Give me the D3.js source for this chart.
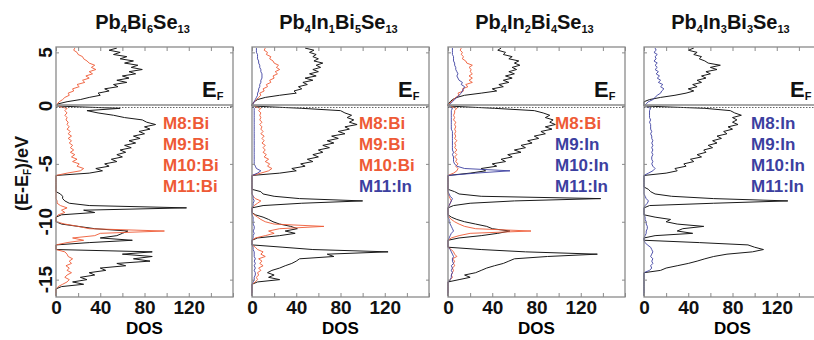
<!DOCTYPE html>
<html>
<head>
<meta charset="utf-8">
<script src="https://cdn.jsdelivr.net/npm/d3@7"></script>
<style>
  body { margin: 0; background: #fff; }
  svg { display: block; }
  text { font-family: "Liberation Sans", Arial, sans-serif; font-weight: bold; }
</style>
</head>
<body>
<svg id="chart" width="814" height="340"></svg>
<script>
// energy grid (eV, relative to E_F) shared by every DOS curve
const energy = [
  -16.4,-16.2,-16.0,-15.8,-15.6,-15.4,-15.2,-15.0,-14.8,-14.6,
  -14.4,-14.2,-14.0,-13.8,-13.6,-13.4,-13.2,-13.0,-12.8,-12.6,
  -12.4,-12.2,-12.0,-11.8,-11.6,-11.4,-11.2,-11.0,-10.8,-10.6,
  -10.4,-10.2,-10.0,-9.8,-9.6,-9.4,-9.2,-9.0,-8.8,-8.6,
  -8.4,-8.2,-8.0,-7.8,-7.6,-7.4,-7.2,-7.0,-6.8,-6.6,
  -6.4,-6.2,-6.0,-5.8,-5.6,-5.4,-5.2,-5.0,-4.8,-4.6,
  -4.4,-4.2,-4.0,-3.8,-3.6,-3.4,-3.2,-3.0,-2.8,-2.6,
  -2.4,-2.2,-2.0,-1.8,-1.6,-1.4,-1.2,-1.0,-0.8,-0.6,
  -0.4,-0.2,0.0,0.2,0.4,0.6,0.8,1.0,1.2,1.4,
  1.6,1.8,2.0,2.2,2.4,2.6,2.8,3.0,3.2,3.4,
  3.6,3.8,4.0,4.2,4.4,4.6,4.8,5.0,5.2,5.4
];

// Pb4Bi6Se13
const p1Total = [
  0,0,0,0,5,25,15,28,22,35,
  30,45,40,63,55,85,70,87,60,87,
  0,0,0,30,69,40,55,60,65,35,
  20,5,0,0,0,5,35,25,118,30,
  12,8,6,6,4,0,0,0,0,0,
  0,0,0,30,42,36,48,44,55,50,
  60,55,63,58,68,62,72,66,76,70,
  80,75,85,80,90,82,78,62,52,38,
  28,58,0,2,10,22,30,40,38,48,
  44,56,52,64,55,66,60,72,66,78,
  68,74,62,70,58,64,52,58,48,55
];
const p1Bi = [
  0,0,0,0,2,6,10,12,8,10,
  14,10,12,9,14,12,15,11,10,8,
  0,0,0,10,25,15,35,40,98,30,
  20,8,0,0,0,2,8,5,10,4,
  1,1,0,0,0,0,0,0,0,0,
  0,0,0,10,22,25,19,21,15,19,
  14,17,13,16,13,15,12,14,11,14,
  11,13,10,12,10,11,9,10,8,10,
  8,10,0,1,3,6,8,12,11,16,
  15,21,19,26,24,30,27,33,30,36,
  32,35,30,28,25,24,20,19,16,17
];

// Pb4In1Bi5Se13
const p2Total = [
  0,0,0,0,0,0,5,25,15,20,
  14,18,25,30,36,40,43,74,68,123,
  55,28,0,0,0,5,25,39,30,41,
  35,25,19,15,10,3,0,0,0,10,
  45,100,43,20,10,8,0,0,0,0,
  0,0,0,25,40,36,48,44,55,50,
  60,55,64,60,70,64,74,68,78,72,
  84,78,88,84,95,88,92,86,90,84,
  80,45,0,0,2,5,12,25,40,38,
  45,42,50,46,55,48,58,52,60,55,
  62,58,64,56,60,55,58,52,56,48
];
const p2Bi = [
  0,0,0,0,0,0,3,5,4,6,
  5,8,6,10,7,9,6,12,8,10,
  5,3,0,0,0,3,12,20,15,25,
  65,20,12,8,5,2,0,0,0,2,
  5,8,3,1,0,0,0,0,0,0,
  0,0,0,8,15,18,14,16,12,15,
  11,13,10,12,10,12,9,11,9,11,
  8,10,8,9,7,9,7,8,7,8,
  6,8,0,1,2,4,6,8,7,11,
  10,14,13,17,16,20,19,23,21,25,
  22,24,20,19,16,17,13,14,11,12
];
const p2In = [
  0,0,0,0,0,0,1,2,2,3,
  3,2,3,2,3,2,3,2,2,2,
  1,1,0,0,0,1,1,2,1,2,
  2,1,1,1,1,0,0,0,0,1,
  1,2,1,1,0,0,0,0,0,0,
  0,0,0,5,8,4,3,2,2,2,
  2,2,2,2,2,2,2,2,2,2,
  2,2,2,2,2,2,2,2,2,2,
  2,2,0,1,2,3,4,5,5,6,
  6,7,7,8,8,9,9,9,8,8,
  7,7,6,6,5,5,5,4,4,4
];

// Pb4In2Bi4Se13
const p3Total = [
  0,0,0,0,0,0,0,10,20,15,
  25,30,35,42,50,55,60,90,135,70,
  30,0,0,0,0,10,30,45,56,40,
  35,25,15,8,3,0,0,0,0,5,
  20,60,138,30,10,6,0,0,0,0,
  0,0,0,20,34,30,44,40,52,48,
  58,54,66,60,70,66,76,72,82,78,
  88,84,94,88,97,92,95,88,92,86,
  78,42,0,0,2,4,8,15,30,44,
  40,50,46,55,50,58,52,60,55,62,
  58,65,60,64,55,58,50,52,45,48
];
const p3Bi = [
  0,0,0,0,0,0,0,2,4,3,
  4,5,4,6,5,6,4,8,6,5,
  3,0,0,0,0,3,10,20,75,25,
  15,10,6,3,1,0,0,0,0,1,
  2,3,2,1,0,0,0,0,0,0,
  0,0,0,5,8,9,7,9,7,8,
  6,8,6,8,6,7,6,8,6,7,
  6,7,6,7,6,7,5,6,5,6,
  6,8,0,1,3,5,7,10,9,14,
  13,18,16,22,19,22,19,22,20,21,
  19,22,17,16,13,14,12,13,11,12
];
const p3In = [
  0,0,0,0,0,0,0,2,3,3,
  4,3,4,3,5,4,4,5,4,3,
  2,0,0,0,0,1,2,3,5,4,
  3,2,1,1,0,0,0,0,0,1,
  2,3,4,2,1,0,0,0,0,0,
  0,0,0,25,56,15,8,6,5,5,
  5,4,5,4,4,4,4,4,4,4,
  4,4,3,3,3,3,3,3,3,3,
  3,4,0,2,4,6,8,10,12,13,
  14,15,12,13,10,9,8,9,8,7,
  7,6,6,5,5,5,4,4,4,4
];

// Pb4In3Bi3Se13
const p4Total = [
  0,0,0,0,0,0,0,0,0,0,
  0,15,20,30,40,48,55,63,75,98,
  108,100,94,50,0,0,10,44,30,35,
  54,30,20,24,10,0,0,0,0,5,
  63,130,63,25,10,6,4,0,0,0,
  0,0,0,20,30,28,38,36,45,42,
  52,48,56,54,62,58,66,62,70,66,
  75,72,80,76,85,80,84,80,88,82,
  78,55,0,0,0,5,15,28,38,45,
  40,48,44,52,48,56,52,60,56,66,
  60,69,58,55,50,52,45,48,40,45
];
const p4In = [
  0,0,0,0,0,0,0,0,0,0,
  0,5,7,6,8,7,8,6,7,8,
  7,6,3,1,0,0,1,2,2,3,
  3,2,2,1,1,0,0,0,0,1,
  3,4,2,1,0,0,0,0,0,0,
  0,0,0,4,8,10,8,7,8,7,
  7,8,7,8,7,8,7,8,7,7,
  6,7,6,6,6,5,6,5,5,5,
  5,6,0,2,4,8,10,12,15,16,
  18,15,17,13,15,12,14,11,13,10,
  12,10,12,9,11,10,12,9,11,10
];

// title pieces: [text, isSubscript]
const titles = [
  [["Pb",0],["4",1],["Bi",0],["6",1],["Se",0],["13",1]],
  [["Pb",0],["4",1],["In",0],["1",1],["Bi",0],["5",1],["Se",0],["13",1]],
  [["Pb",0],["4",1],["In",0],["2",1],["Bi",0],["4",1],["Se",0],["13",1]],
  [["Pb",0],["4",1],["In",0],["3",1],["Bi",0],["3",1],["Se",0],["13",1]]
];
const siteLabels = [
  ["M8:Bi","M9:Bi","M10:Bi","M11:Bi"],
  ["M8:Bi","M9:Bi","M10:Bi","M11:In"],
  ["M8:Bi","M9:In","M10:In","M11:In"],
  ["M8:In","M9:In","M10:In","M11:In"]
];
const curves = [
  [["total", p1Total], ["Bi", p1Bi]],
  [["total", p2Total], ["Bi", p2Bi], ["In", p2In]],
  [["total", p3Total], ["Bi", p3Bi], ["In", p3In]],
  [["total", p4Total], ["In", p4In]]
];
const xTicks = [0,20,40,60,80,100,120,140,160];
const xLabels = [0,40,80,120];
const yTicks = [-15,-10,-5,0,5];

const colors = { total: "#1a1a1a", Bi: "#ee5a36", In: "#3c40a0" };
const axisColor = "#8a8a8a";

const svg = d3.select("#chart");
const panelW = 177, panelStep = 196, left0 = 56;
const yTop = 47, yZero = 106, yBot = 297;

// upper box (0..5.5 eV) and lower box (-16.5..0 eV) are scaled separately
const y = d3.scaleLinear().domain([-16.5, 0, 5.5]).range([yBot, yZero, yTop]);

const line = d3.line()
  .x(d => d.x)
  .y(d => d.y);

titles.forEach((title, p) => {
  const x0 = left0 + p * panelStep;
  const x = d3.scaleLinear().domain([0, 160]).range([x0, x0 + panelW]);
  const g = svg.append("g");

  // curves
  curves[p].forEach(([kind, vals]) => {
    const pts = energy.map((e, i) => ({ x: x(vals[i]), y: y(e) }));
    g.append("path")
      .attr("d", line(pts))
      .attr("fill", "none")
      .attr("stroke", colors[kind])
      .attr("stroke-width", kind == "total" ? 1 : 0.9)
      .attr("stroke-linejoin", "round");
  });

  // frame + divider at E_F
  g.append("rect")
    .attr("x", x0).attr("y", yTop)
    .attr("width", panelW).attr("height", yBot - yTop)
    .attr("fill", "none").attr("stroke", axisColor).attr("stroke-width", 1.3);
  g.append("line")
    .attr("x1", x0).attr("x2", x0 + panelW)
    .attr("y1", y(0) - 1).attr("y2", y(0) - 1)
    .attr("stroke", axisColor).attr("stroke-width", 1.3);
  g.append("line")
    .attr("x1", x0).attr("x2", x0 + panelW)
    .attr("y1", y(0) + 1.5).attr("y2", y(0) + 1.5)
    .attr("stroke", "#666").attr("stroke-width", 1)
    .attr("stroke-dasharray", "1.5,1.5");

  // ticks
  const bottom = g.append("g").attr("transform", `translate(0,${yBot})`)
    .call(d3.axisBottom(x).tickValues(xTicks).tickSize(-4).tickPadding(3)
      .tickFormat(d => xLabels.includes(d) ? d : ""));
  const top = g.append("g").attr("transform", `translate(0,${yTop})`)
    .call(d3.axisTop(x).tickValues(xTicks).tickSize(-4).tickFormat(""));
  const lft = g.append("g").attr("transform", `translate(${x0},0)`)
    .call(d3.axisLeft(y).tickValues(yTicks).tickSize(-3).tickFormat(""));
  const rgt = g.append("g").attr("transform", `translate(${x0 + panelW},0)`)
    .call(d3.axisRight(y).tickValues(yTicks).tickSize(-3).tickFormat(""));
  [bottom, top, lft, rgt].forEach(a => {
    a.select(".domain").remove();
    a.selectAll("line").attr("stroke", axisColor);
  });
  bottom.selectAll("text")
    .attr("font-size", 19).attr("fill", "#111")
    .style("font-family", '"Liberation Sans", Arial, sans-serif').style("font-weight", "bold");

  svg.append("text")
    .attr("x", x0 + panelW / 2).attr("y", 334)
    .attr("text-anchor", "middle").attr("font-size", 17)
    .text("DOS");

  // title with subscripts
  const t = svg.append("text")
    .attr("x", x0 + panelW / 2 - 2).attr("y", 29)
    .attr("text-anchor", "middle").attr("font-size", 20).attr("fill", "#111");
  let sub = false;
  title.forEach(([s, isSub]) => {
    const ts = t.append("tspan").text(s);
    if (isSub && !sub) ts.attr("dy", 4).attr("font-size", 11);
    else if (isSub) ts.attr("font-size", 11);
    else if (sub) ts.attr("dy", -4);
    sub = !!isSub;
  });

  // E_F marker
  const ef = svg.append("text")
    .attr("x", x0 + 146).attr("y", 97).attr("font-size", 22).attr("fill", "#111");
  ef.append("tspan").text("E");
  ef.append("tspan").attr("dy", 3).attr("font-size", 11).text("F");

  // site occupancy labels
  siteLabels[p].forEach((s, i) => {
    svg.append("text")
      .attr("x", x0 + 107).attr("y", 129 + i * 21)
      .attr("font-size", 17)
      .attr("fill", s.endsWith("Bi") ? colors.Bi : colors.In)
      .text(s);
  });
});

// energy tick labels on the first panel
svg.append("g").selectAll("text").data(yTicks).join("text")
  .attr("transform", d => `translate(52,${y(d)}) rotate(-90)`)
  .attr("text-anchor", "middle").attr("font-size", 19).attr("fill", "#111")
  .text(d => d);

const yl = svg.append("text")
  .attr("transform", `translate(28,${(yZero + yBot) / 2 - 28}) rotate(-90)`)
  .attr("text-anchor", "middle").attr("font-size", 18).attr("fill", "#111");
yl.append("tspan").text("(E-E");
yl.append("tspan").attr("dy", 3).attr("font-size", 10).text("F");
yl.append("tspan").attr("dy", -3).text(")/eV");
</script>
</body>
</html>
